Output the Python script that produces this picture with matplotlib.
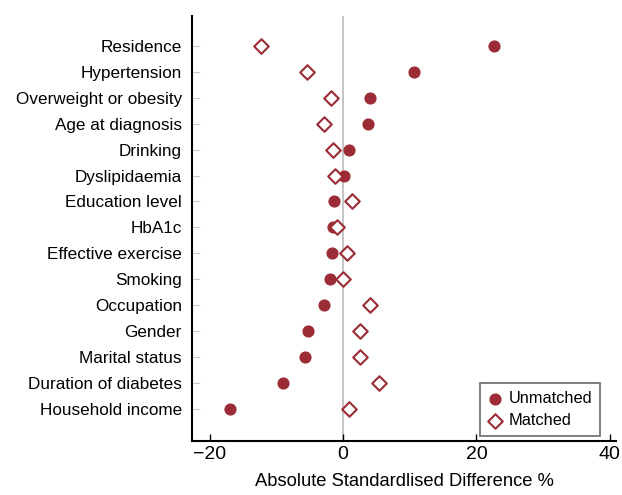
import numpy as np
import matplotlib.pyplot as plt

plt.rcParams['font.family'] = ['Liberation Sans', 'DejaVu Sans']

# covariates, top to bottom
labels = ['Residence', 'Hypertension', 'Overweight or obesity', 'Age at diagnosis',
          'Drinking', 'Dyslipidaemia', 'Education level', 'HbA1c', 'Effective exercise',
          'Smoking', 'Occupation', 'Gender', 'Marital status', 'Duration of diabetes',
          'Household income']
unmatched = [22.6, 10.65, 3.95, 3.65, 0.8, 0.05, -1.45, -1.6, -1.75,
             -2.05, -2.85, -5.25, -5.8, -9.0, -17.05]
matched = [-12.4, -5.45, -1.9, -2.85, -1.55, -1.3, 1.35, -1.0, 0.6,
           0.0, 3.95, 2.5, 2.5, 5.35, 0.9]
xticks = [-20, 0, 20, 40]

red = '#9b2c35'
y = np.arange(len(labels), 0, -1)

fig = plt.figure(figsize=(6.22, 4.95), dpi=100)
ax = fig.add_axes([0.308, 0.1097, 0.683, 0.858])

ax.axvline(0, color='#bbbbbb', lw=1.2, zorder=1)
ax.scatter(unmatched, y, s=60, color=red, marker='o', label='Unmatched', zorder=3)
ax.scatter(matched, y, s=55, facecolor='white', edgecolor=red, linewidth=1.5,
           marker='D', label='Matched', zorder=3)
ax.set_yticks(y)
ax.set_yticklabels(labels, fontsize=12.3)
ax.set_xticks(xticks)
ax.set_xticklabels(['\u221220', '0', '20', '40'], fontsize=14)
ax.set_xlim(-22.75, 41)
ax.set_ylim(-0.22, 16.15)
ax.set_xlabel('Absolute Standardlised Difference %', fontsize=13.2, labelpad=7)

for s in ['top', 'right']:
    ax.spines[s].set_visible(False)
ax.spines['left'].set_linewidth(1.5)
ax.spines['bottom'].set_linewidth(1.5)
ax.tick_params(axis='y', direction='in', length=6, color='#cccccc', pad=7)
ax.tick_params(axis='x', direction='in', length=5, width=1, pad=4)

leg = ax.legend(loc='lower right', bbox_to_anchor=(0.962, 0.011), borderaxespad=0,
                fontsize=11.8, frameon=True, fancybox=False, edgecolor='#444444',
                handletextpad=0.45, borderpad=0.5, labelspacing=0.4, handlelength=0.8)
leg.get_frame().set_linewidth(1.2)

fig.savefig('out.png', dpi=100)
